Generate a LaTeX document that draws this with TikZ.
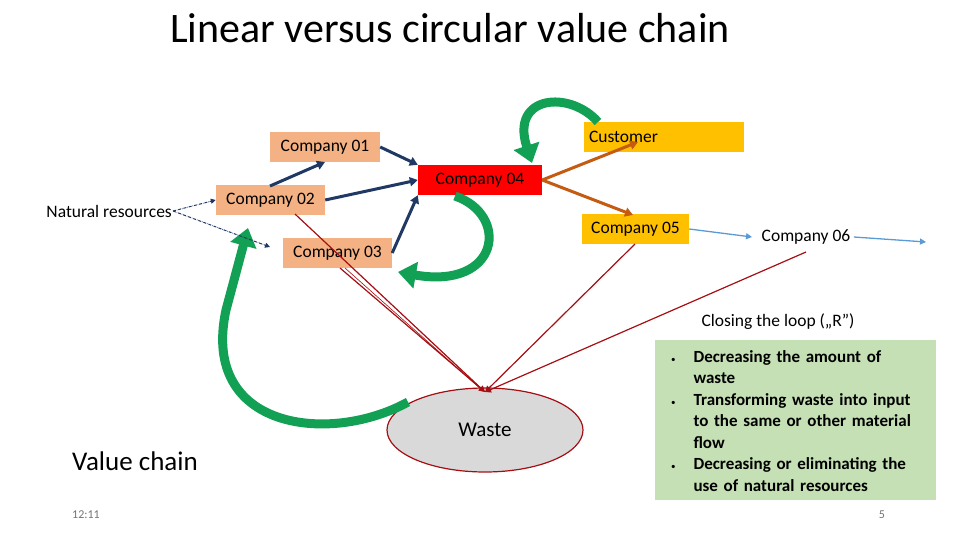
\documentclass[tikz,border=0pt]{standalone}
\usepackage{fontspec}
\setmainfont{Carlito}
\usetikzlibrary{arrows.meta,shapes.geometric}
\definecolor{peach}{HTML}{F4B183}
\definecolor{gold}{HTML}{FFC000}
\definecolor{navy}{HTML}{203864}
\definecolor{rust}{HTML}{C55A11}
\definecolor{sky}{HTML}{5B9BD5}
\definecolor{dred}{HTML}{A50E12}
\definecolor{grn}{HTML}{12A055}
\definecolor{lgreen}{HTML}{C5E0B4}
\begin{document}
\begin{tikzpicture}[x=1pt,y=-1pt,
  comp/.style={fill=peach,minimum height=30pt,inner sep=0pt,font=\fontsize{17.5}{20}\selectfont},
  navyarr/.style={draw=navy,line width=3pt,-{Triangle[width=9pt,length=8pt]}},
  rustarr/.style={draw=rust,line width=3pt,-{Triangle[width=9pt,length=8pt]}},
  dotarr/.style={draw=navy,densely dashdotted,line width=1pt,-{Triangle[width=5pt,length=5pt]}},
  bluearr/.style={draw=sky,line width=1.3pt,-{Triangle[width=6pt,length=6pt]}},
  wastearr/.style={draw=dred,line width=1.2pt,-{Triangle[width=6pt,length=6pt]}},
  greenarr/.style={draw=grn,line width=9pt,-{Triangle[width=26pt,length=18pt]}}]
\useasboundingbox (0,0) rectangle (960,540);
\node (title) at (450,28) {\fontsize{42}{48}\selectfont Linear versus circular value chain};
% nodes
\node[comp,minimum width=110pt] (c1) at (325,147) {Company 01};
\node[comp,minimum width=109pt] (c2) at (270.5,200) {Company 02};
\node[comp,minimum width=109pt] (c3) at (337.5,253) {Company 03};
\node[comp,fill=red,minimum width=124pt] (c4) at (480,180) {Company 04};
\node[comp,fill=gold,minimum width=160pt,text width=150pt,align=left] (cu) at (664,137) {Customer};
\node[comp,fill=gold,minimum width=107pt] (c5) at (635.5,229) {Company 05};
\node[font=\fontsize{17.5}{20}\selectfont] (c6) at (806,237) {Company 06};
\node[font=\fontsize{17.5}{20}\selectfont,anchor=east,inner sep=1pt] (nr) at (173,211) {Natural resources};
\coordinate (end6) at (926,242);
\node[ellipse,draw=dred,line width=1.2pt,fill=black!15,minimum width=196pt,minimum height=84pt,font=\fontsize{21}{24}\selectfont] (w) at (485,430) {Waste};
\coordinate (wt) at (485,392);
% green loops
\draw[greenarr] (598,122) .. controls (570,90) and (510,95) .. (532,163);
\draw[greenarr] (455,196) .. controls (510,215) and (500,290) .. (398,272);
\draw[greenarr] (408,402) .. controls (330,445) and (200,430) .. (226,310) -- (248,228);
% navy
\draw[dotarr] (nr.east) -- (c2.west);
\draw[dotarr] (nr.east) -- (270,247);
\draw[navyarr] (270,186) -- (325,162);
\draw[navyarr] (c1.east) -- (c4.north west);
\draw[navyarr] (c2.east) -- (c4.west);
\draw[navyarr] (c3.east) -- (c4.south west);
% orange
\draw[rustarr] (c4.east) -- (638,142);
\draw[rustarr] (c4.east) -- (633,215);
% blue
\draw[bluearr] (c5.east) -- (752,237);
\draw[bluearr] (c6.east) -- (end6);
% waste lines
\draw[wastearr] (295,214) -- (wt);
\draw[wastearr] (340,268) -- (wt);
\draw[draw=dred,line width=0.6pt] (345,268) -- (482,390);
\draw[wastearr] (635,244) -- (wt);
\draw[wastearr] (806,252) -- (wt);
% text box
\node[font=\fontsize{17.5}{20}\selectfont] (cl) at (778,322) {Closing the loop („R”)};
\node[fill=lgreen,minimum width=281pt,minimum height=160pt,inner sep=0pt] (gb) at (795.5,420) {};
\node[anchor=north west,text width=256pt,font=\bfseries\fontsize{17}{21.5}\selectfont,align=left] (gt) at (662,337) {%
\begin{list}{\mdseries\small\textbullet}{\leftmargin=28pt\labelsep=18pt\itemsep=0pt\parsep=0pt\topsep=0pt}
\raggedright
\item Decreasing the amount of waste
\item Transforming waste into input to the same or other material flow
\item Decreasing or eliminating the use of natural resources
\end{list}};
\node (vc) at (135,461) {\fontsize{27}{30}\selectfont Value chain};
\node[text=black!55,font=\fontsize{12}{14}\selectfont] (tm) at (86,515) {12:11};
\node[text=black!55,font=\fontsize{12}{14}\selectfont] (pg) at (882,515) {5};
\end{tikzpicture}
\end{document}
